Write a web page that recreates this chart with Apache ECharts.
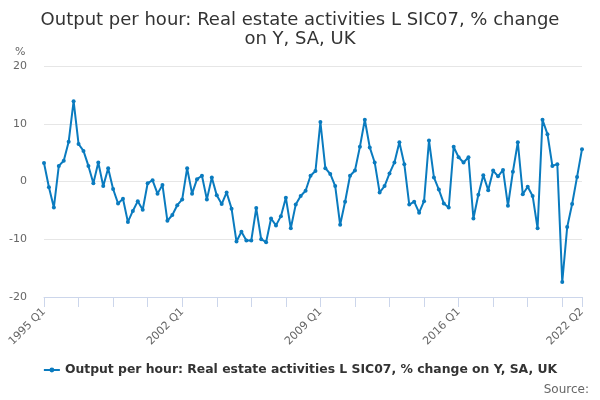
<!DOCTYPE html>
<html>
<head>
<meta charset="utf-8">
<script src="https://cdn.jsdelivr.net/npm/echarts@6/dist/echarts.min.js"></script>
<style>
  html, body { margin: 0; padding: 0; background: #fff; }
  #chart { width: 600px; height: 400px; }
</style>
</head>
<body>
<div id="chart"></div>
<script>
// quarterly series, 1995 Q1 .. 2022 Q2
var startYear = 1995;
var endYear = 2022;
var endQuarter = 2;

var seriesName = 'Output per hour: Real estate activities L SIC07, % change on Y, SA, UK';

var values = [
  3.2, -1.0, -4.5, 2.7, 3.6, 6.9, 13.9, 6.5, 5.3, 2.7,
  -0.3, 3.3, -0.8, 2.3, -1.3, -3.8, -3.0, -7.0, -5.1, -3.4,
  -4.9, -0.3, 0.2, -2.1, -0.6, -6.8, -5.8, -4.1, -3.1, 2.3,
  -2.1, 0.4, 1.0, -3.1, 0.7, -2.4, -3.9, -1.9, -4.7, -10.4,
  -8.7, -10.2, -10.2, -4.6, -10.0, -10.5, -6.4, -7.6, -6.0, -2.8,
  -8.1, -4.0, -2.5, -1.6, 1.0, 1.8, 10.3, 2.3, 1.3, -0.8,
  -7.5, -3.5, 1.0, 1.9, 6.0, 10.7, 5.9, 3.3, -1.9, -0.8,
  1.4, 3.3, 6.8, 3.0, -4.0, -3.5, -5.4, -3.4, 7.1, 0.7,
  -1.4, -3.8, -4.5, 6.0, 4.2, 3.3, 4.2, -6.4, -2.3, 1.1,
  -1.5, 1.9, 0.9, 2.0, -4.2, 1.7, 6.8, -2.2, -0.9, -2.5,
  -8.1, 10.7, 8.2, 2.7, 3.0, -17.4, -7.9, -3.9, 0.8, 5.6
];

var categories = [];
for (var y = startYear; y <= endYear; y++) {
  for (var q = 1; q <= 4; q++) {
    if (y === endYear && q > endQuarter) break;
    categories.push(y + ' Q' + q);
  }
}
var lastIdx = categories.length - 1;

var font = 'DejaVu Sans';
var blue = '#0a7bbf';
var chart = echarts.init(document.getElementById('chart'));
chart.setOption({
  animation: false,
  textStyle: { fontFamily: font },
  title: {
    text: 'Output per hour: Real estate activities L SIC07, % change\non Y, SA, UK',
    left: 'center',
    top: 6,
    textStyle: { fontFamily: font, fontSize: 18, fontWeight: 'normal', color: '#333', lineHeight: 19 }
  },
  graphic: [
    { type: 'text', left: 15, top: 47, style: { text: '%', fontFamily: font, fontSize: 11, fill: '#666' } },
    { type: 'text', right: 11, top: 384, style: { text: 'Source:', fontFamily: font, fontSize: 12, fill: '#666' } }
  ],
  legend: {
    bottom: 19,
    left: 'center',
    itemWidth: 16,
    itemHeight: 6,
    itemGap: 5,
    textStyle: { fontFamily: font, fontSize: 12.4, fontWeight: 'bold', color: '#333' },
    data: [seriesName]
  },
  grid: { left: 44, right: 18, top: 66, bottom: 103, containLabel: false },
  xAxis: {
    type: 'category',
    boundaryGap: false,
    data: categories,
    axisLine: { onZero: false, lineStyle: { color: '#ccd6eb', width: 1 } },
    axisTick: {
      length: 10,
      lineStyle: { color: '#ccd6eb' },
      interval: function (i) { return i % 7 === 0 || i === lastIdx; }
    },
    axisLabel: {
      rotate: 45,
      fontSize: 11,
      color: '#666',
      margin: 13,
      interval: function (i) { return i % 28 === 0 || i === lastIdx; }
    }
  },
  yAxis: {
    type: 'value',
    min: -20,
    max: 20,
    interval: 10,
    axisLine: { show: false },
    axisTick: { show: false },
    axisLabel: { fontSize: 11, color: '#666', margin: 17 },
    splitLine: { lineStyle: { color: '#e6e6e6' } }
  },
  series: [{
    name: seriesName,
    type: 'line',
    data: values,
    symbol: 'circle',
    symbolSize: 4,
    showAllSymbol: true,
    color: blue,
    lineStyle: { width: 2, color: blue },
    itemStyle: { color: blue }
  }]
});
</script>
</body>
</html>
